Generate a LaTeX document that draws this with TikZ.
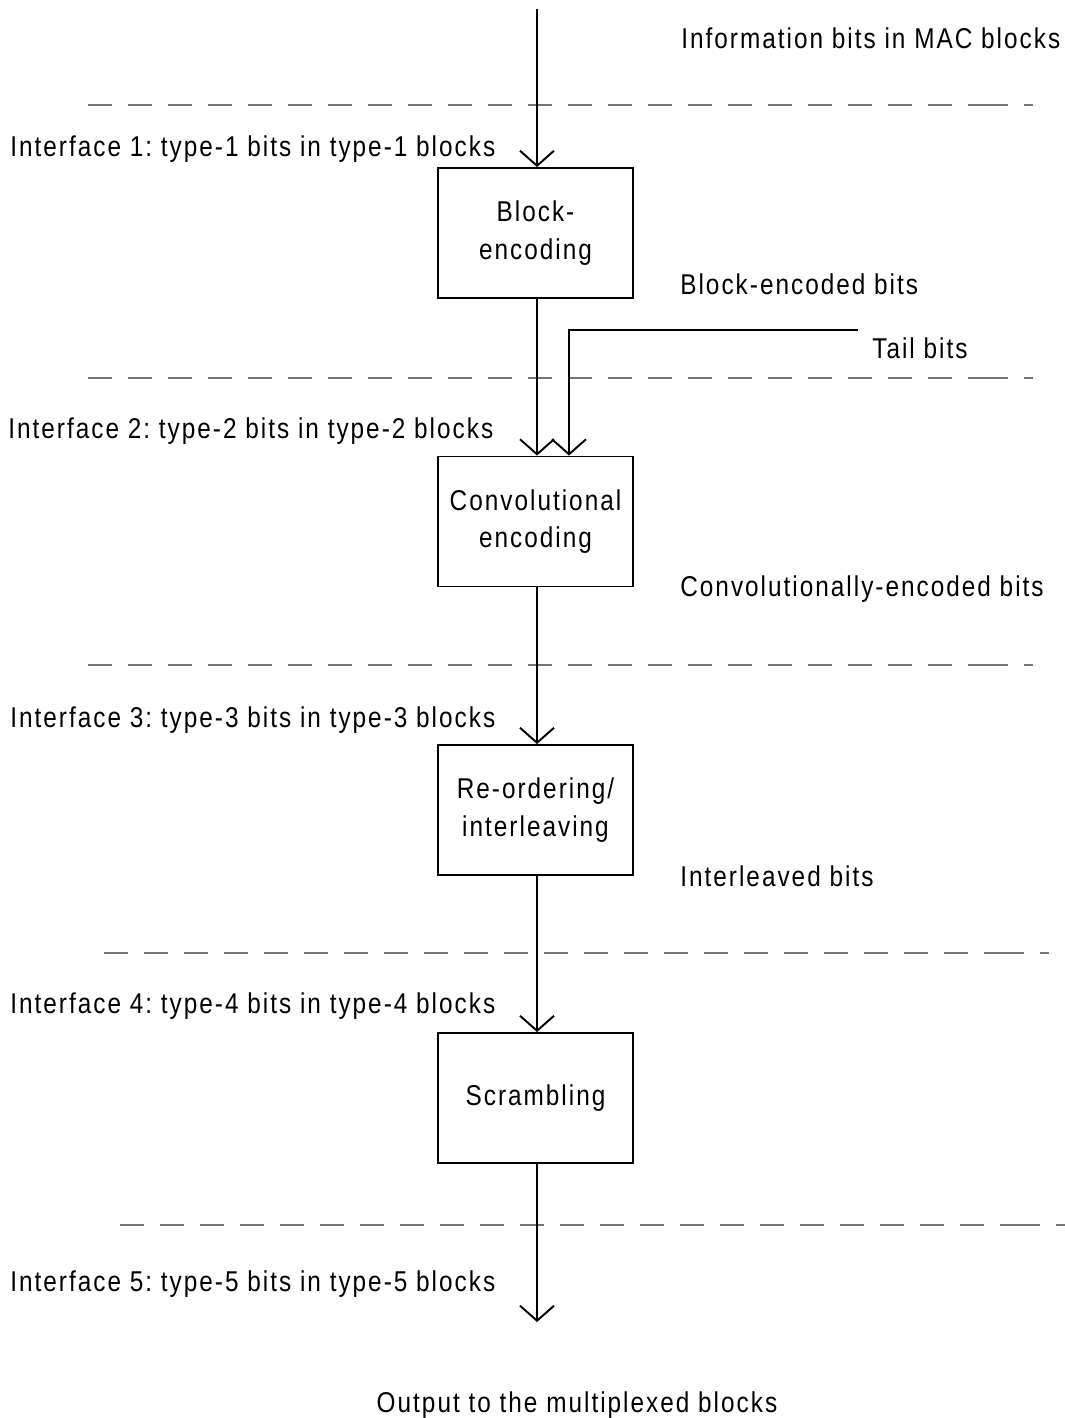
\documentclass[tikz,border=0pt]{standalone}
\usepackage{fontspec}
\setmainfont{Liberation Sans}[FakeStretch=0.85,LetterSpace=7]
\frenchspacing
\usetikzlibrary{arrows.meta, positioning, calc}

\begin{document}
\begin{tikzpicture}[x=0.02cm,y=-0.02cm,
        font=\fontsize{16.3}{21.5}\selectfont,
        stage/.style={draw,line width=1.1pt,minimum width=3.9cm,minimum height=2.6cm,align=center,inner sep=0pt},
        sig/.style={line width=1.1pt,arrows={-Straight Barb[length=0.3cm,width=0.68cm,line width=1.1pt]}},
        sep/.style={black!55,line width=0.75pt},
        txt/.style={inner sep=0pt,anchor=base west}]
            \useasboundingbox (0,0) rectangle (1065,1418);

            % separators between the interfaces
            \foreach \y/\s in {105/0, 378/0, 665/0, 953/16, 1225/32}
            {
                \draw[sep,dash pattern=on 0.48cm off 0.32cm] (88+\s,\y) -- (992+\s,\y);
                \draw[sep] (968+\s,\y) -- (1008+\s,\y);
                \draw[sep] (1024+\s,\y) -- (1033+\s,\y);
            }

            \node[stage] (B1) at (535.5,233) {Block-\\encoding};
            \node[stage] (B2) at (535.5,521.5) {Convolutional\\encoding};
            \node[stage] (B3) at (535.5,810) {Re-ordering/\\interleaving};
            \node[stage] (B4) at (535.5,1098) {Scrambling};

            \coordinate (in) at (537,9);
            \coordinate (out) at (537,1322);
            \coordinate (T) at (858,330);

            \draw[sig] (in) -- (B1.north -| in);
            \draw[sig] (B1.south -| in) -- (B2.north -| in);
            \draw[sig] (T) -| ([xshift=0.64cm]B2.north -| in);
            \draw[sig] (B2.south -| in) -- (B3.north -| in);
            \draw[sig] (B3.south -| in) -- (B4.north -| in);
            \draw[sig] (B4.south -| in) -- (out);

            \node[txt] (M) at (681,48) {Information bits in MAC blocks};
            \node[txt] (E1) at (680,294) {Block-encoded bits};
            \node[txt] (tail) at (872,358) {Tail bits};
            \node[txt] (E2) at (680,596) {Convolutionally-encoded bits};
            \node[txt] (E3) at (680,886) {Interleaved bits};

            \node[txt] (I1) at (10,156) {Interface 1: type-1 bits in type-1 blocks};
            \node[txt] (I2) at (8,438) {Interface 2: type-2 bits in type-2 blocks};
            \node[txt] (I3) at (10,727) {Interface 3: type-3 bits in type-3 blocks};
            \node[txt] (I4) at (10,1013) {Interface 4: type-4 bits in type-4 blocks};
            \node[txt] (I5) at (10,1291) {Interface 5: type-5 bits in type-5 blocks};

            \node[inner sep=0pt,anchor=base] (O) at (577,1412) {Output to the multiplexed blocks};

        \end{tikzpicture}
\end{document}
